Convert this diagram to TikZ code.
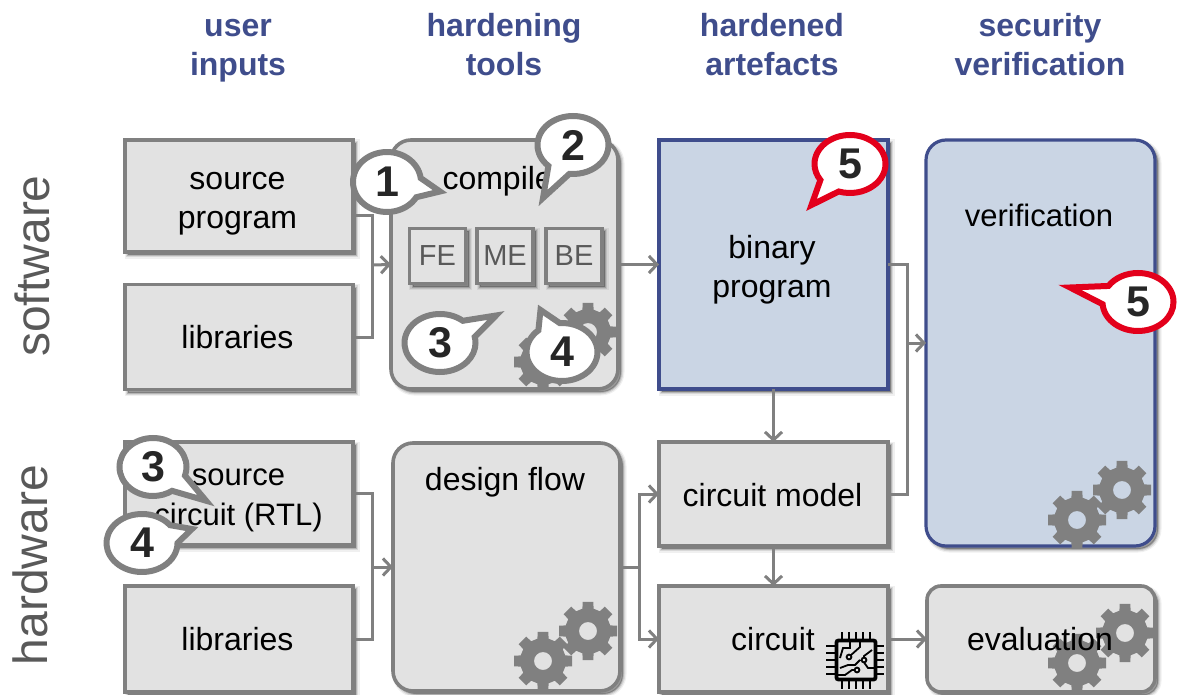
\documentclass[tikz,border=0pt]{standalone}
\usepackage{fontspec}
\setmainfont{Liberation Sans}
\usetikzlibrary{shadows,shapes.callouts,arrows.meta}
\definecolor{gline}{HTML}{808080}
\definecolor{gfill}{HTML}{E2E2E2}
\definecolor{bline}{HTML}{3F4D8C}
\definecolor{bfill}{HTML}{CAD5E4}
\definecolor{hdr}{HTML}{3F4D8C}
\definecolor{sidegray}{HTML}{595959}
\definecolor{redc}{HTML}{E3001B}
\definecolor{digit}{HTML}{262626}
\tikzset{
  softshadow/.style={
    general shadow={shadow xshift=3pt,shadow yshift=-3pt,draw=black,fill=black,line width=7pt,opacity=.06},
    general shadow={shadow xshift=3pt,shadow yshift=-3pt,draw=black,fill=black,line width=4.5pt,opacity=.10},
    general shadow={shadow xshift=3pt,shadow yshift=-3pt,draw=black,fill=black,line width=2pt,opacity=.16}},
  gbox/.style={draw=gline,fill=gfill,line width=3.6pt,inner sep=0pt,outer sep=0pt,softshadow},
  grbox/.style={gbox,rounded corners=20pt},
  bbox/.style={gbox,draw=bline,fill=bfill,line width=3.2pt},
  brbox/.style={bbox,rounded corners=20pt},
  subbox/.style={gbox,minimum width=56pt,minimum height=55pt,font=\fontsize{29}{32}\selectfont,text=sidegray},
  hdrtext/.style={font=\fontsize{32}{39}\bfseries\selectfont,align=center,text=hdr},
  lbl/.style={font=\fontsize{32}{39}\selectfont,text=black,inner sep=0pt,align=center},
  sidetext/.style={font=\fontsize{48}{50}\selectfont,text=sidegray,rotate=90,inner sep=0pt},
  conn/.style={draw=gline,line width=3pt},
  arrowed/.style={conn,-{Straight Barb[length=8pt,width=17pt,line width=3pt]}},
  bubble/.style={ellipse callout,fill=white,draw=gline,line width=6pt,inner sep=0pt,outer sep=0pt,
     minimum width=71pt,minimum height=58pt,font=\fontsize{43}{43}\bfseries\selectfont,text=digit,
     callout pointer arc=38,miter limit=20},
  redbubble/.style={bubble,draw=redc},
  gearfill/.style={fill=gline,even odd rule},
  pics/gear/.style={code={
    \fill[gearfill] (-13:23) \foreach \a in {0,45,...,315}{
        -- ({\a-14}:23) -- ({\a-10.5}:29.5) -- ({\a+10.5}:29.5) -- ({\a+14}:23)} -- cycle
        (0,0) circle[radius=9];
  }},
}
\begin{document}
\begin{tikzpicture}[x=1pt,y=-1pt]
\useasboundingbox (0,0) rectangle (1178,695);
% headers
\node[hdrtext] (h1) at (238,50.5) {user\\inputs};
\node[hdrtext] (h2) at (504,45) {hardening\\tools};
\node[hdrtext] (h3) at (772,45) {hardened\\artefacts};
\node[hdrtext] (h4) at (1040,45) {security\\verification};
\node[sidetext] (s1) at (32,266) {software};
\node[sidetext] (s2) at (30,565) {hardware};
% boxes
\node[gbox,minimum width=228pt,minimum height=112pt] (srcprog) at (239,196) {};
\node[lbl] (srcprogl) at (237.5,204) {source\\program};
\node[gbox,minimum width=228pt,minimum height=105pt] (lib1) at (239,337) {};
\node[lbl] (lib1l) at (237.5,337) {libraries};
\node[grbox,minimum width=227pt,minimum height=249pt] (compiler) at (504.5,264.5) {};
\node[lbl] (compilerlbl) at (503,181) {compiler};
\node[subbox] (fe) at (437.5,256) {FE};
\node[subbox] (me) at (505,256) {ME};
\node[subbox] (be) at (574,256) {BE};
\node[bbox,minimum width=229pt,minimum height=249pt] (binary) at (773.5,264.5) {};
\node[lbl] (binaryl) at (772,269.5) {binary\\program};
\node[brbox,minimum width=229pt,minimum height=406pt] (verif) at (1040.5,343) {};
\node[lbl,font=\fontsize{31}{38}\selectfont] (veriflbl) at (1039,215) {verification};
\node[gbox,minimum width=228pt,minimum height=103pt] (srccirc) at (239,493.5) {};
\node[lbl,font=\fontsize{31}{40}\selectfont] (srccircl) at (238.5,500) {source\\circuit (RTL)};
\node[gbox,minimum width=228pt,minimum height=106pt] (lib2) at (239,639) {};
\node[lbl] (lib2l) at (237.5,639) {libraries};
\node[grbox,minimum width=227pt,minimum height=248pt] (design) at (506.5,567) {};
\node[lbl] (designlbl) at (505,482) {design flow};
\node[gbox,minimum width=229pt,minimum height=104pt] (cmodel) at (773.5,494) {};
\node[lbl] (cmodell) at (772.5,495) {circuit model};
\node[gbox,minimum width=229pt,minimum height=106pt] (circuit) at (773.5,639) {};
\node[lbl] (circuitl) at (773,639) {circuit};
\node[gbox,rounded corners=14pt,minimum width=228pt,minimum height=106pt] (eval) at (1041,639) {};
% gears
\begin{scope}
 \clip (compiler.south west) rectangle (compiler.north east);
 \pic at (588,332) {gear};
 \pic at (543,362) {gear};
\end{scope}
\pic at (588,631) {gear};
\pic at (543,661) {gear};
\pic at (1122,490) {gear};
\pic at (1077,520) {gear};
\pic at (1125,633) {gear};
\pic at (1077,663) {gear};
\node[lbl] (evallbl) at (1040,639) {evaluation};
% chip
\begin{scope}[shift={(856,660)}]
 \draw[black,line width=3.8pt,rounded corners=2pt] (-19.5,-19.5) rectangle (19.5,19.5);
 \foreach \t in {-14,-7,0,7,14}{
   \draw[black,line width=2.5pt] (\t,-28) -- (\t,-21);
   \draw[black,line width=2.5pt] (\t,21) -- (\t,29);
   \draw[black,line width=2.5pt] (-30,\t) -- (-21,\t);
   \draw[black,line width=2.5pt] (21,\t) -- (28,\t);
 }
 \draw[black,line width=1.8pt]
   (-16,-2) -- (-13,-12) -- (-6,-12) -- (-6,-18)
   (-7,-3) circle[radius=2.4]
   (-5.3,-4.7) -- (4,-13) -- (4,-18)
   (8,0) circle[radius=2.4]
   (8,-2.4) -- (8,-4) -- (16,-10)
   (8,2.4) -- (12,8) -- (18,8)
   (1,10) circle[radius=2.4]
   (-1.4,10) -- (-4,10) -- (-11,15) -- (-18,15)
   (-16,8) -- (-8,5) -- (-1,5) -- (4,0);
\end{scope}
% connectors
\coordinate (j1) at (372,265);
\coordinate (j2) at (907,343);
\coordinate (j3) at (372,567);
\coordinate (j4) at (639,567);
\draw[conn] (srcprog.east) ++(0,20) -| (j1);
\draw[conn] (lib1.east) -| (j1);
\draw[arrowed] (j1) -- (compiler.west);
\draw[arrowed] (compiler.east) -- (binary.west);
\draw[conn] (binary.east) -| (j2);
\draw[conn] (cmodel.east) -| (j2);
\draw[arrowed] (j2) -- (verif.west);
\draw[arrowed] (binary.south) -- (cmodel.north);
\draw[arrowed] (cmodel.south) -- (circuit.north);
\draw[arrowed] (circuit.east) -- (eval.west);
\draw[conn] (srccirc.east) -| (j3);
\draw[conn] (lib2.east) -| (j3);
\draw[arrowed] (j3) -- (design.west);
\draw[conn] (design.east) -- (j4);
\draw[arrowed] (j4) |- (cmodel.west);
\draw[arrowed] (j4) |- (circuit.west);
% callouts
\node[bubble,minimum width=68pt,minimum height=60pt,callout absolute pointer={(440,191.5)}] (c1) at (387,182) {1};
\node[bubble,callout absolute pointer={(543,198)}] (c2) at (573,145) {2};
\node[bubble,callout absolute pointer={(496,315.5)}] (c3) at (440,343) {3};
\node[bubble,callout absolute pointer={(540.5,310)}] (c4) at (562,352) {4};
\node[bubble,minimum width=67pt,callout absolute pointer={(206,500.7)}] (c5) at (153,467) {3};
\node[bubble,callout absolute pointer={(192,529)}] (c6) at (142,543) {4};
\node[redbubble,callout absolute pointer={(811.5,205)}] (c7) at (850,164) {5};
\node[redbubble,callout absolute pointer={(1070,287.5)}] (c8) at (1138,302) {5};
\end{tikzpicture}
\end{document}
